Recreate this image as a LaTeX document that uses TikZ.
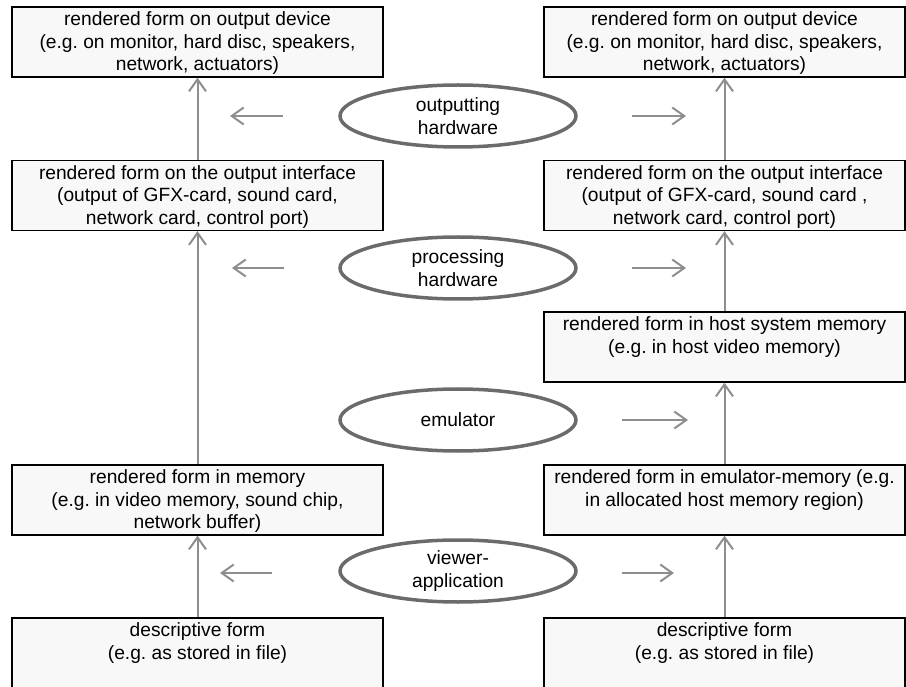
\documentclass[tikz,border=0pt]{standalone}
\usepackage{fontspec}
\setmainfont{Liberation Sans}
\usepackage{tikz}
\usetikzlibrary{shapes.geometric,arrows.meta}
\frenchspacing

\definecolor{boxfill}{HTML}{F8F8F8}
\definecolor{ringgray}{HTML}{6B6B6B}
\definecolor{flowgray}{HTML}{8E8E8E}

\newcommand{\boxlines}[1]{\parbox[c][60pt][t]{350pt}{\centering #1}}

\tikzset{
	form/.style={draw=black, line width=1.3pt, fill=boxfill, inner xsep=0pt, inner ysep=5pt, minimum width=371pt},
	layer/.style={ellipse, draw=ringgray, line width=3.5pt, minimum width=236pt, minimum height=62pt, align=center, inner sep=0pt},
	flow/.style={draw=flowgray, line width=2pt, -{Straight Barb[length=12pt,width=17pt]}}
}

\begin{document}
\begin{tikzpicture}[x=1pt, y=-1pt, font=\fontsize{19.2}{22.5}\selectfont]
			
			\useasboundingbox (0,0) rectangle (906,687);
			
			% left column
			\node[form] (dev-l) at (197.5,42) {\boxlines{rendered form on output device\\(e.g. on monitor, hard disc, speakers,\\network, actuators)}};
			\node[form] (ifc-l) at (197.5,195.5) {\boxlines{rendered form on the output interface\\(output of GFX-card, sound card,\\network card, control port)}};
			\node[form] (mem-l) at (197.5,500) {\boxlines{rendered form in memory\\(e.g. in video memory, sound chip,\\network buffer)}};
			\node[form] (file-l) at (197.5,653) {\boxlines{descriptive form\\(e.g. as stored in file)}};
			
			% right column
			\node[form,minimum width=361pt] (dev-r) at (724.5,42) {\boxlines{rendered form on output device\\(e.g. on monitor, hard disc, speakers,\\network, actuators)}};
			\node[form,minimum width=361pt] (ifc-r) at (724.5,195.5) {\boxlines{rendered form on the output interface\\(output of GFX-card, sound card ,\\network card, control port)}};
			\node[form,minimum width=361pt] (host-r) at (724.5,347) {\boxlines{rendered form in host system memory\\(e.g. in host video memory)}};
			\node[form,minimum width=361pt] (emu-r) at (724.5,500) {\boxlines{rendered form in emulator-memory (e.g.\\in allocated host memory region)}};
			\node[form,minimum width=361pt] (file-r) at (724.5,653) {\boxlines{descriptive form\\(e.g. as stored in file)}};
			
			% layers
			\node[layer] (out) at (458,116) {outputting\\hardware};
			\node[layer] (proc) at (458,268) {processing\\hardware};
			\node[layer] (emul) at (458,420) {emulator};
			\node[layer] (view) at (458,571) {viewer-\\application};
			
			\draw[flow] (ifc-l) -- (dev-l);
			\draw[flow] (mem-l) -- (ifc-l);
			\draw[flow] (file-l) -- (mem-l);
			\draw[flow] (ifc-r) -- (dev-r);
			\draw[flow] (host-r) -- (ifc-r);
			\draw[flow] (emu-r) -- (host-r);
			\draw[flow] (file-r) -- (emu-r);
			
			% side arrows
			\coordinate (out-l0) at (283,116);
			\coordinate (out-l1) at (230,116);
			\coordinate (out-r0) at (632,116);
			\coordinate (out-r1) at (686,116);
			\coordinate (proc-l0) at (284,268);
			\coordinate (proc-l1) at (232,268);
			\coordinate (proc-r0) at (632,268);
			\coordinate (proc-r1) at (686,268);
			\coordinate (emul-r0) at (622,420);
			\coordinate (emul-r1) at (688,420);
			\coordinate (view-l0) at (272,573);
			\coordinate (view-l1) at (220,573);
			\coordinate (view-r0) at (622,573);
			\coordinate (view-r1) at (674,573);
			
			\draw[flow] (out-l0) -- (out-l1);
			\draw[flow] (out-r0) -- (out-r1);
			\draw[flow] (proc-l0) -- (proc-l1);
			\draw[flow] (proc-r0) -- (proc-r1);
			\draw[flow] (emul-r0) -- (emul-r1);
			\draw[flow] (view-l0) -- (view-l1);
			\draw[flow] (view-r0) -- (view-r1);
			
		\end{tikzpicture}
\end{document}
